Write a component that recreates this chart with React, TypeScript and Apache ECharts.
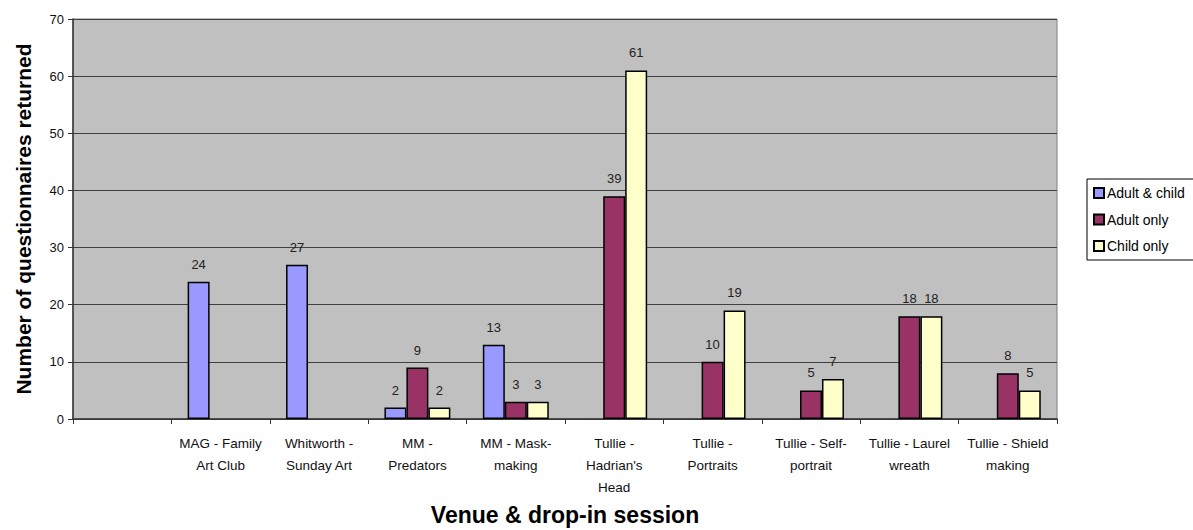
import React, { useEffect, useRef } from "react";
import * as echarts from "echarts";

const categories = [
  "",
  "MAG - Family\nArt Club",
  "Whitworth -\nSunday Art",
  "MM -\nPredators",
  "MM - Mask-\nmaking",
  "Tullie -\nHadrian's\nHead",
  "Tullie -\nPortraits",
  "Tullie - Self-\nportrait",
  "Tullie - Laurel\nwreath",
  "Tullie - Shield\nmaking",
];
const adultAndChild = [null, 24, 27, 2, 13, null, null, null, null, null];
const adultOnly = [null, null, null, 9, 3, 39, 10, 5, 18, 8];
const childOnly = [null, null, null, 2, 3, 61, 19, 7, 18, 5];
const seriesNames = ["Adult & child", "Adult only", "Child only"];
const yTicks = { min: 0, max: 70, interval: 10 };

const FONT = "'Liberation Sans', Arial, sans-serif";

export default function App() {
  const ref = useRef<HTMLDivElement>(null);
  useEffect(() => {
    if (!ref.current) return;
    const chart = echarts.init(ref.current, null, { renderer: "svg" });
    const mk = (name: string, data: (number | null)[], color: string) => ({
      name,
      type: "bar",
      data,
      barGap: "0%",
      barCategoryGap: "33%",
      itemStyle: { color, borderColor: "#000", borderWidth: 1.5 },
      label: {
        show: true,
        position: "top",
        distance: 11,
        color: "#222",
        fontSize: 13,
        fontFamily: FONT,
      },
    });
    chart.setOption({
      animation: false,
      textStyle: { fontFamily: FONT },
      grid: {
        left: 73,
        top: 19,
        right: 136,
        bottom: 111,
        outerBoundsMode: "none",
        containLabel: false,
        show: true,
        backgroundColor: "#C0C0C0",
        borderColor: "#808080",
        borderWidth: 1,
      },
      legend: {
        orient: "vertical",
        left: 1087,
        top: 179,
        icon: "rect",
        itemWidth: 10,
        itemHeight: 10,
        itemGap: 12.5,
        padding: [7, 40, 7, 6],
        borderColor: "#000",
        borderWidth: 1,
        backgroundColor: "#fff",
        textStyle: { fontSize: 14, color: "#000", fontFamily: FONT, padding: [0, 0, 0, -2] },
        data: seriesNames,
      },
      xAxis: {
        type: "category",
        data: categories,
        name: "Venue & drop-in session",
        nameLocation: "middle",
        nameGap: 84,
        nameTextStyle: { fontSize: 23, fontWeight: "bold", color: "#000", fontFamily: FONT },
        axisLine: { lineStyle: { color: "#333", width: 1.5 } },
        axisTick: { show: true, alignWithLabel: false, length: 5, lineStyle: { color: "#333" } },
        axisLabel: {
          interval: 0,
          color: "#111",
          fontSize: 13.5,
          lineHeight: 22,
          margin: 13,
          fontFamily: FONT,
        },
      },
      yAxis: {
        type: "value",
        min: yTicks.min,
        max: yTicks.max,
        interval: yTicks.interval,
        name: "Number of questionnaires returned",
        nameLocation: "middle",
        nameGap: 39,
        nameTextStyle: { fontSize: 21, fontWeight: "bold", color: "#000", fontFamily: FONT },
        axisLine: { show: true, lineStyle: { color: "#333", width: 1.5 } },
        axisTick: { show: true, length: 5, lineStyle: { color: "#333" } },
        axisLabel: { color: "#111", fontSize: 13, margin: 9, fontFamily: FONT },
        splitLine: { lineStyle: { color: "#404040", width: 1 } },
      },
      series: [
        mk(seriesNames[0], adultAndChild, "#9999FF"),
        mk(seriesNames[1], adultOnly, "#993366"),
        mk(seriesNames[2], childOnly, "#FFFFCC"),
      ],
    });
    return () => chart.dispose();
  }, []);
  return <div ref={ref} style={{ width: 1193, height: 530, position: "absolute", left: 0, top: 0 }} />;
}
